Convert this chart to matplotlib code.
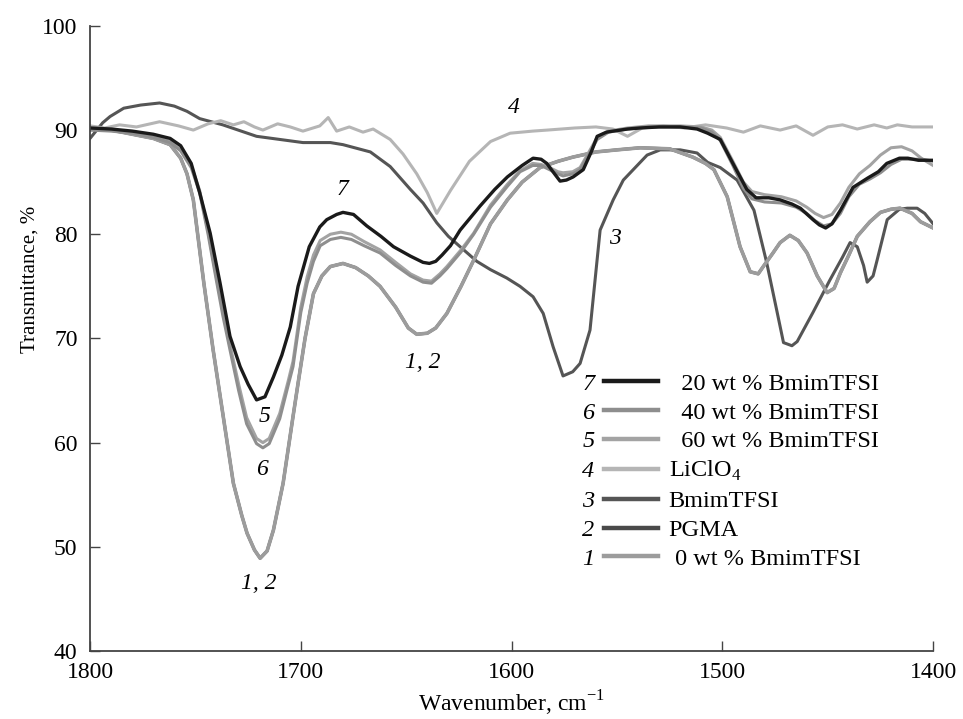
import matplotlib
matplotlib.use('Agg')
import matplotlib.pyplot as plt

plt.rcParams['font.family'] = ['Liberation Serif', 'DejaVu Serif']
plt.rcParams['mathtext.fontset'] = 'custom'
plt.rcParams['mathtext.rm'] = 'Liberation Serif'

# curve 7: 20 wt % BmimTFSI
wn7 = [1800, 1790, 1780, 1770, 1762, 1757, 1752, 1748, 1743, 1738.3, 1733.6, 1728.8, 1725, 1721,
       1717, 1713, 1709, 1705, 1701.3, 1696, 1691, 1687.7, 1683, 1680, 1675, 1668.7, 1662, 1656,
       1648, 1642, 1639, 1636, 1633, 1629, 1624.4, 1615, 1608, 1602, 1595, 1589.8, 1586, 1583.3,
       1580, 1577, 1574, 1570.8, 1566, 1562, 1559.4, 1555, 1551.8, 1545, 1539, 1530, 1520, 1512,
       1507, 1501, 1495, 1488.4, 1484, 1478, 1472.6, 1467, 1463, 1457, 1454, 1451, 1448, 1444,
       1438, 1431, 1426, 1422, 1416, 1412, 1407, 1400]
t7 = [90.2, 90.1, 89.9, 89.6, 89.2, 88.5, 86.8, 84.0, 80.1, 75.3, 70.2, 67.3, 65.6, 64.1,
      64.4, 66.3, 68.4, 71.1, 75.0, 78.8, 80.7, 81.4, 81.9, 82.1, 81.9, 80.8, 79.8, 78.8,
      77.9, 77.3, 77.2, 77.4, 78.0, 78.9, 80.4, 82.7, 84.3, 85.5, 86.6, 87.3, 87.2, 86.8,
      85.9, 85.1, 85.2, 85.5, 86.2, 88.0, 89.4, 89.8, 89.9, 90.1, 90.2, 90.3, 90.3, 90.1,
      89.7, 89.1, 86.8, 84.3, 83.5, 83.5, 83.3, 82.9, 82.5, 81.4, 80.9, 80.6, 81.0, 82.3,
      84.5, 85.4, 86.0, 86.8, 87.3, 87.3, 87.1, 87.1]

# curves 6 and 5: 40 and 60 wt % BmimTFSI
wn56 = [1800, 1790, 1780, 1770, 1762, 1757, 1752, 1748, 1744, 1740, 1737, 1733.6, 1729.5, 1725.7,
        1721, 1718, 1715, 1710, 1706, 1703.7, 1700, 1697, 1694, 1690.8, 1686, 1681, 1676, 1670,
        1662.4, 1655, 1648, 1642, 1638, 1634, 1630.7, 1624, 1618, 1610, 1602, 1596, 1590, 1586,
        1582, 1578, 1575.6, 1571, 1567.5, 1563, 1559.4, 1554, 1545, 1535, 1520, 1510, 1505, 1501,
        1495, 1490, 1486, 1480, 1472, 1465, 1460, 1456, 1452, 1448, 1444, 1440, 1435, 1430,
        1425, 1420, 1415, 1410, 1405, 1400]
t6 = [90.0, 89.9, 89.7, 89.3, 88.8, 88.0, 86.4, 84.0, 80.0, 75.5, 72.2, 68.9, 65.0, 61.8,
      59.9, 59.5, 59.9, 62.3, 65.5, 67.3, 72.5, 75.3, 77.4, 78.9, 79.5, 79.7, 79.5, 78.9,
      78.2, 77.0, 76.0, 75.4, 75.3, 76.0, 76.7, 78.3, 80.0, 82.6, 84.6, 86.0, 86.6, 86.6,
      86.2, 85.8, 85.6, 85.8, 86.2, 87.8, 89.1, 89.8, 90.1, 90.3, 90.3, 90.2, 89.8, 89.0,
      86.6, 84.4, 83.4, 83.1, 83.0, 82.6, 82.0, 81.3, 80.8, 81.0, 82.0, 83.6, 84.8, 85.3,
      85.9, 86.7, 87.2, 87.2, 87.2, 87.0]
t5 = [90.1, 90.0, 89.8, 89.4, 88.9, 88.1, 86.6, 84.2, 80.3, 75.8, 72.6, 69.4, 65.6, 62.4,
      60.4, 60.0, 60.4, 62.8, 65.9, 67.8, 73.0, 75.9, 78.0, 79.4, 80.0, 80.2, 80.0, 79.3,
      78.5, 77.3, 76.2, 75.6, 75.5, 76.2, 76.9, 78.5, 80.1, 82.8, 84.8, 86.1, 86.8, 86.7,
      86.4, 86.0, 85.9, 86.0, 86.4, 88.0, 89.3, 89.9, 90.2, 90.4, 90.4, 90.3, 90.0, 89.3,
      87.0, 85.0, 84.1, 83.8, 83.6, 83.2, 82.6, 82.0, 81.6, 81.9, 83.0, 84.5, 85.8, 86.6,
      87.6, 88.3, 88.4, 88.0, 87.2, 86.6]

# curve 4: LiClO4
wn4 = [1800, 1793, 1786, 1778, 1767, 1758, 1751, 1744, 1738, 1732, 1727, 1722, 1718, 1711,
       1705, 1699, 1691, 1687, 1683, 1677, 1670.5, 1665.7, 1657.6, 1651.5, 1645, 1640, 1635.5,
       1629, 1620, 1610, 1600.7, 1590, 1583, 1570, 1560, 1552, 1545, 1538, 1528, 1518, 1508,
       1498, 1490, 1482, 1472.6, 1465, 1457, 1450, 1443, 1436, 1428, 1422, 1417, 1410, 1400]
t4 = [90.4, 90.2, 90.5, 90.3, 90.8, 90.4, 90.0, 90.6, 90.9, 90.5, 90.8, 90.3, 90.0, 90.6,
      90.3, 89.9, 90.4, 91.2, 89.9, 90.3, 89.8, 90.1, 89.1, 87.7, 85.8, 84.0, 82.0,
      84.2, 87.0, 88.9, 89.7, 89.9, 90.0, 90.2, 90.3, 90.1, 89.4, 90.2, 90.4, 90.2, 90.5,
      90.2, 89.8, 90.4, 90.0, 90.4, 89.5, 90.3, 90.5, 90.1, 90.5, 90.2, 90.5, 90.3, 90.3]

# curve 3: BmimTFSI
wn3 = [1800, 1794, 1790.5, 1784, 1776, 1767, 1760, 1754, 1748, 1737, 1721, 1710, 1699, 1686,
       1680, 1667, 1657.6, 1648, 1642, 1635.5, 1630, 1624.4, 1616.5, 1610, 1602.3, 1596, 1589.8,
       1585, 1580.3, 1575.6, 1571, 1567.5, 1562.8, 1559.6, 1558, 1551.8, 1547, 1539, 1535.7,
       1529.5, 1520, 1512, 1507, 1501, 1493, 1485, 1479, 1474, 1471, 1467, 1464.5, 1457, 1449,
       1443, 1439.4, 1436, 1433, 1431.3, 1428.5, 1426.6, 1421.8, 1416, 1412.3, 1407.6, 1404,
       1400]
t3 = [89.2, 90.7, 91.3, 92.1, 92.4, 92.6, 92.3, 91.8, 91.1, 90.5, 89.4, 89.1, 88.8, 88.8,
      88.6, 87.9, 86.5, 84.3, 83.0, 81.1, 79.8, 78.8, 77.4, 76.6, 75.8, 75.0, 74.0,
      72.4, 69.2, 66.4, 66.8, 67.6, 70.8, 77.2, 80.4, 83.3, 85.2, 86.9, 87.6,
      88.1, 88.1, 87.8, 86.9, 86.4, 85.2, 82.3, 77.3, 72.5, 69.6, 69.3, 69.7, 72.5, 75.6,
      77.8, 79.2, 78.8, 77.0, 75.4, 76.0, 77.5, 81.4, 82.4, 82.5, 82.5, 82.0,
      81.0]

# curves 1 and 2: 0 wt % BmimTFSI and PGMA (coincide)
wn12 = [1800, 1790, 1780, 1770, 1762, 1757, 1754, 1751, 1746, 1741.6, 1736.8, 1732, 1728, 1725.5,
        1722, 1719.3, 1716, 1713, 1708.4, 1703.7, 1701.3, 1698, 1694, 1690, 1686, 1680, 1674,
        1668, 1662.4, 1655, 1649, 1645, 1640, 1636, 1630.7, 1624, 1618, 1610, 1602, 1595,
        1586.5, 1578, 1571, 1560, 1550, 1539, 1525, 1514, 1508, 1504, 1497.7, 1491.6, 1486.8,
        1483, 1480.6, 1476, 1472.6, 1468, 1464, 1459.8, 1455, 1450.3, 1447, 1444, 1440, 1436,
        1430, 1425, 1420, 1415.7, 1410, 1406, 1400]
t12 = [90.1, 90.0, 89.6, 89.2, 88.6, 87.3, 85.8, 83.3, 75.3, 68.9, 62.5, 56.1, 53.0, 51.3,
       49.7, 48.9, 49.6, 51.6, 56.1, 62.5, 65.7, 70.0, 74.3, 76.0, 76.9, 77.2, 76.8,
       76.0, 75.0, 73.0, 71.0, 70.4, 70.5, 71.0, 72.4, 75.0, 77.5, 81.0, 83.3, 85.0,
       86.4, 87.0, 87.4, 87.9, 88.1, 88.3, 88.2, 87.4, 86.8, 86.2, 83.6, 78.8, 76.4,
       76.2, 76.9, 78.2, 79.2, 79.9, 79.4, 78.2, 76.0, 74.4, 74.8, 76.3, 78.0, 79.8,
       81.2, 82.1, 82.4, 82.5, 82.0, 81.2, 80.6]

fig = plt.figure(figsize=(9.63, 7.19), dpi=100)
ax = fig.add_axes([0.0935, 0.0946, 0.8755, 0.8694])

l3, = ax.plot(wn3, t3, color='#555555', lw=2.2)
l4, = ax.plot(wn4, t4, color='#b5b5b5', lw=2.2)
l2, = ax.plot(wn12, t12, color='#4a4a4a', lw=2.2)
l1, = ax.plot(wn12, t12, color='#9c9c9c', lw=2.6)
l5, = ax.plot(wn56, t5, color='#a3a3a3', lw=2.2)
l6, = ax.plot(wn56, t6, color='#8e8e8e', lw=2.2)
l7, = ax.plot(wn7, t7, color='#1a1a1a', lw=2.4)

ax.set_xlim(1800, 1400)
ax.set_ylim(40, 100)
ax.set_xticks([1800, 1700, 1600, 1500, 1400])
ax.set_yticks([40, 50, 60, 70, 80, 90, 100])
for s in ['top', 'right']:
    ax.spines[s].set_visible(False)
for s in ['left', 'bottom']:
    ax.spines[s].set_color('#444444')
    ax.spines[s].set_linewidth(1.3)
ax.tick_params(direction='in', length=7, width=1, color='#444444', labelsize=17)
ax.tick_params(axis='x', pad=8)
ax.tick_params(axis='y', pad=9)
ax.set_xlabel('Wavenumber, cm$^{-1}$', fontsize=17, labelpad=4)
ax.set_ylabel('Transmittance, %', fontsize=15)
ax.yaxis.set_label_coords(-0.060, 0.595)

# curve labels
lab = dict(fontsize=17, style='italic', ha='center', va='center')
ax.text(1680, 84.3, '7', **lab)
ax.text(1599, 92.2, '4', **lab)
ax.text(1551, 79.6, '3', **lab)
ax.text(1642, 67.7, '1, 2', **lab)
ax.text(1717, 62.5, '5', **lab)
ax.text(1718.4, 57.4, '6', **lab)
ax.text(1720, 46.5, '1, 2', **lab)

handles = [l7, l6, l5, l4, l3, l2, l1]
labels = ['  20 wt % BmimTFSI', '  40 wt % BmimTFSI', '  60 wt % BmimTFSI', 'LiClO$_4$',
          'BmimTFSI', 'PGMA', ' 0 wt % BmimTFSI']
nums = ['7', '6', '5', '4', '3', '2', '1']
leg = ax.legend(handles, labels, loc='upper left', bbox_to_anchor=(0.610, 0.445),
                frameon=False, fontsize=17.5, handlelength=2.2, handletextpad=0.45,
                labelspacing=0.28, borderpad=0, borderaxespad=0)
for h in leg.get_lines():
    h.set_linewidth(3.2)

fig.canvas.draw()
x0 = leg.get_window_extent().x0
inv = ax.transAxes.inverted()
for txt, n in zip(leg.get_texts(), nums):
    bb = txt.get_window_extent()
    yc = (bb.y0 + bb.y1) / 2
    xa, ya = inv.transform((x0 - 10, yc))
    ax.text(xa, ya, n, transform=ax.transAxes, fontsize=17.5, style='italic',
            ha='right', va='center')

fig.savefig('out.png', dpi=100)
